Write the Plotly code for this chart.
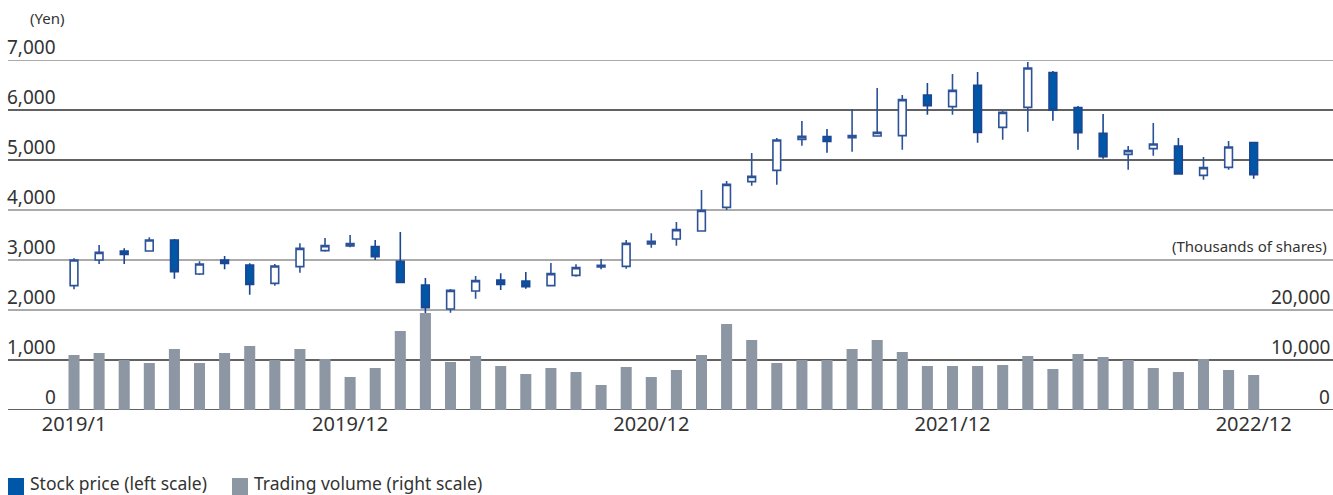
import plotly.graph_objects as go

# monthly data 2019/1 - 2022/12
months = [f"{y}/{m}" for y in range(2019, 2023) for m in range(1, 13)]

price_open = [2487, 3000, 3180, 3180, 3400, 2720, 3000, 2900, 2533, 2867, 3187, 3280,
              3267, 2973, 2500, 2020, 2380, 2600, 2580, 2487, 2693, 2860, 2873, 3320,
              3420, 3580, 4053, 4567, 4793, 5413, 5467, 5447, 5480, 5487, 6300, 6067,
              6493, 5653, 6053, 6747, 6047, 5533, 5113, 5227, 5280, 4693, 4853, 5347]
price_close = [3000, 3153, 3113, 3400, 2767, 2920, 2933, 2513, 2880, 3233, 3287, 3327,
               3067, 2553, 2047, 2393, 2587, 2513, 2467, 2727, 2847, 2893, 3333, 3373,
               3607, 3993, 4513, 4673, 5400, 5473, 5373, 5487, 5553, 6207, 6087, 6393,
               5553, 5953, 6840, 6000, 5547, 5067, 5187, 5320, 4720, 4847, 5260, 4707]
price_high = [3033, 3300, 3233, 3453, 3420, 2973, 3080, 2933, 2920, 3333, 3440, 3500,
              3400, 3560, 2640, 2420, 2680, 2733, 2760, 2940, 2913, 3020, 3400, 3533,
              3760, 4400, 4580, 5140, 5440, 5780, 5620, 6020, 6440, 6300, 6540, 6720,
              6760, 5987, 6960, 6780, 6080, 5920, 5280, 5740, 5440, 5060, 5380, 5367]
price_low = [2413, 2920, 2920, 3170, 2627, 2700, 2813, 2307, 2487, 2747, 3167, 3253,
             3000, 2547, 1700, 1947, 2227, 2400, 2427, 2480, 2667, 2813, 2827, 3247,
             3287, 3573, 4000, 4487, 4507, 5287, 5147, 5167, 5467, 5207, 5907, 5907,
             5347, 5407, 5567, 5787, 5207, 5027, 4807, 5087, 4707, 4607, 4807, 4627]
volume = [11000, 11400, 10000, 9400, 12200, 9400, 11400, 12800, 10000, 12200, 10200, 6600,
          8400, 15800, 19400, 9600, 10800, 8800, 7200, 8400, 7600, 5000, 8600, 6600,
          8000, 11000, 17200, 14000, 9400, 10000, 10000, 12200, 14000, 11600, 8800, 8800,
          8800, 9000, 10800, 8200, 11200, 10600, 10000, 8400, 7600, 10200, 8000, 7000]

price_ticks = [0, 1000, 2000, 3000, 4000, 5000, 6000, 7000]
volume_ticks = [0, 10000, 20000]
x_labels = ["2019/1", "2019/12", "2020/12", "2021/12", "2022/12"]

FONT = "Noto Sans"
TEXT = "#333333"
BLUE = "#0057a8"
GRAY = "#8d96a3"

x = list(range(len(months)))
tick_pos = [months.index(l) for l in x_labels]

fig = go.Figure()

fig.add_trace(go.Bar(
    x=x, y=volume, yaxis="y2",
    marker=dict(color=GRAY, line=dict(width=0)),
    showlegend=False, hoverinfo="skip",
))

fig.add_trace(go.Candlestick(
    x=x, open=price_open, high=price_high, low=price_low, close=price_close,
    increasing=dict(fillcolor="white", line=dict(color="#2c5298", width=1.6)),
    decreasing=dict(fillcolor=BLUE, line=dict(color="#1a4692", width=1.6)),
    whiskerwidth=0,
    showlegend=False,
))

# gridlines (some darker, some lighter as in the original)
dark = {0, 1000, 5000, 6000}
for v in price_ticks:
    fig.add_shape(type="line", xref="paper", yref="y", x0=0, x1=1, y0=v, y1=v,
                  line=dict(color="#2e2e2e" if v in dark else "#8f8f8f", width=1.6),
                  layer="below")

ann = []
for v in price_ticks:
    ann.append(dict(xref="paper", yref="y", x=0, y=v, xshift=50, yshift=-2,
                    text=f"{v:,}", showarrow=False, xanchor="right", yanchor="bottom",
                    font=dict(size=19, color=TEXT)))
for v in volume_ticks:
    ann.append(dict(xref="paper", yref="y2", x=1, y=v, xshift=-1, yshift=-2,
                    text=f"{v:,}", showarrow=False, xanchor="right", yanchor="bottom",
                    font=dict(size=19, color=TEXT)))
ann.append(dict(xref="paper", yref="paper", x=0, y=1, xshift=20, yshift=30,
                text="(Yen)", showarrow=False, xanchor="left", yanchor="bottom",
                font=dict(size=15, color=TEXT)))
ann.append(dict(xref="paper", yref="y2", x=1, y=30000, xshift=-4, yshift=2,
                text="(Thousands of shares)", showarrow=False, xanchor="right",
                yanchor="bottom", font=dict(size=15, color=TEXT)))

# legend drawn by hand (squares + labels)
legend_items = [("Stock price (left scale)", BLUE, 0), ("Trading volume (right scale)", GRAY, 224)]
for label, color, off in legend_items:
    fig.add_shape(type="rect", xref="paper", yref="paper",
                  xsizemode="pixel", ysizemode="pixel", xanchor=0, yanchor=0,
                  x0=off, x1=off + 16, y0=-68, y1=-85,
                  line=dict(width=0), fillcolor=color)
    ann.append(dict(xref="paper", yref="paper", x=0, y=0, xshift=off + 20, yshift=-73,
                    text=label, showarrow=False, xanchor="left", yanchor="middle",
                    font=dict(size=17.5, color=TEXT)))

fig.update_layout(
    width=1333, height=495,
    margin=dict(l=8, r=0, t=60, b=85),
    paper_bgcolor="white", plot_bgcolor="white",
    font=dict(family=FONT, color=TEXT),
    bargap=0.56, boxgap=0.56,
    xaxis=dict(range=[-2.63, 50.16], tickvals=tick_pos, ticktext=x_labels,
               showgrid=False, zeroline=False, showline=False, ticks="",
               tickfont=dict(size=20), rangeslider=dict(visible=False)),
    yaxis=dict(range=[0, 7000], showgrid=False, zeroline=False,
               showticklabels=False),
    yaxis2=dict(range=[0, 70000], overlaying="y", side="right", showgrid=False,
                zeroline=False, showticklabels=False),
    annotations=ann,
)

# page has a default 8px body margin; drop it so the figure fills the window
fig.write_html("out.html", config={"displayModeBar": False},
               post_script="document.body.style.margin='0';")
